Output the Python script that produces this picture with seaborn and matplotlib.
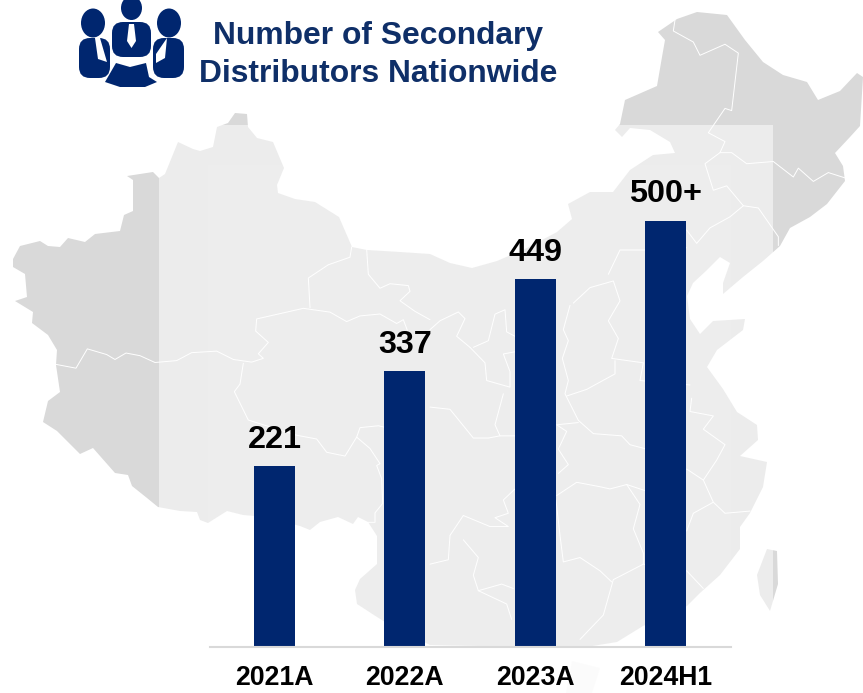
import pandas as pd
import numpy as np
import matplotlib
matplotlib.use('Agg')
import matplotlib.pyplot as plt
from matplotlib.patches import Polygon, Rectangle, Ellipse, FancyBboxPatch
import seaborn as sns

# chart data
periods = ['2021A', '2022A', '2023A', '2024H1']
distributors = [221, 337, 449, 520]
bar_labels = ['221', '337', '449', '500+']

NAVY = '#00266f'
TITLE_NAVY = '#0f2f68'

sns.set_theme(style='white')
plt.rcParams['font.family'] = ['Liberation Sans', 'DejaVu Sans']

# map outline, traced in pixels (backdrop only)
china = [(13,259),(20,246),(40,241),(48,246),(60,247),(68,238),(85,242),(95,234),(120,231),(124,215),
         (133,211),(133,180),(127,176),(153,172),(159,178),(165,174),(178,142),(193,149),(200,151),(213,147),
         (217,127),(228,123),(235,113),(247,114),(248,127),(257,138),(273,142),(284,168),(277,185),(278,193),
         (295,199),(315,202),(339,217),(352,247),(367,250),(400,252),(430,254),(450,263),(472,268),(497,261),
         (527,248),(557,232),(572,219),(568,204),(590,192),(613,192),(630,170),(653,155),(675,153),(670,142),
         (650,130),(630,128),(622,137),(615,130),(620,124),(625,100),(657,86),(662,57),(665,40),(658,32),
         (677,19),(697,12),(727,15),(745,40),(763,62),(783,75),(807,82),(818,100),(840,91),(857,73),
         (863,77),(860,126),(850,137),(835,153),(843,166),(845,181),(827,204),(810,217),(790,228),(780,246),
         (763,261),(743,277),(723,294),(723,283),(730,263),(720,257),(707,270),(693,283),(687,296),(690,319),
         (700,334),(713,321),(745,319),(743,330),(717,350),(707,367),(723,389),(737,412),(757,425),(758,440),
         (740,456),(767,462),(763,487),(750,513),(740,527),(740,549),(720,575),(700,593),(687,606),(643,626),
         (617,642),(580,648),(430,645),(400,630),(385,622),(377,617),(357,604),(355,590),(360,579),(377,564),
         (377,536),(368,522),(358,517),(353,524),(338,517),(320,522),(310,530),(300,526),(267,517),(243,515),
         (227,511),(208,523),(200,520),(197,512),(180,511),(158,507),(147,498),(132,486),(128,475),(115,473),
         (93,448),(80,454),(57,431),(43,422),(48,401),(60,392),(56,365),(57,350),(48,335),(32,323),
         (33,312),(15,301),(27,297),(25,274),(13,267)]
taiwan = [(777,551),(767,549),(757,575),(760,595),(770,611),(778,584)]
hainan = [(572,661),(600,668),(592,693),(566,693)]

# province borders
west_lines = [
    [(168,698),(228,708),(262,657),(320,672),(345,685),(378,668),(420,675),(465,693),(530,688),(575,667),(650,663),
     (700,685),(755,692),(790,682),(775,670),(805,640),(767,610),(770,578),(910,550),(990,560),(1040,585),(1080,570),
     (1140,565),(1190,590),(1210,580),(1225,615)],
    [(1055,388),(1050,415),(985,435),(925,470),(930,548)],
    [(1100,395),(1105,460),(1140,497),(1170,485),(1225,490),(1230,505),(1200,530),(1245,558),(1290,580)],
    [(730,695),(720,750),(703,770),(745,845),(890,885),(950,895),(980,930),(1035,940),(1070,890),(1080,865),(1135,860),(1160,865)],
    [(1070,890),(1110,920),(1140,960),(1130,965),(1145,1000),(1148,1065),(1125,1090),(1125,1115),(1105,1115)],
]
east_lines = [
    [(735,45),(730,70),(790,95),(810,125),(885,100),(925,120),(905,250),(885,245),(835,300),(885,320),(870,345),(825,370),
     (850,430),(890,420),(940,465),(985,470),(1045,535),(1045,555)],
    [(870,345),(905,345),(950,370),(1030,365),(1090,400),(1105,380),(1150,410),(1195,390),(1245,402)],
    [(940,465),(900,490),(840,515),(800,550),(770,520)],
    [(535,620),(570,565),(645,565),(770,560)],
    [(430,685),(480,650),(550,635),(570,680),(535,725),(565,765),(545,810),(640,820),(630,860),(780,870)],
    [(420,690),(400,745),(415,770),(397,810),(415,860),(405,890),(445,950),(490,980),(575,985),(600,1005),(650,1015)],
    [(410,895),(470,880),(555,845),(555,815)],
    [(445,955),(380,960),(410,975),(385,1015),(415,1050),(385,1070)],
    [(380,1120),(440,1090),(510,1100),(540,1105),(590,1095),(630,1140),(610,1195),(640,1250),(640,1275),(550,1310),(520,1390),(450,1445)],
    [(590,1095),(650,1110),(770,1060),(820,1085),(850,1135),(885,1160),(960,1155)],
    [(820,1085),(860,1040),(885,1005),(820,970),(850,940),(780,930),(785,900)],
    [(850,1135),(790,1160),(770,1200)],
    [(640,1275),(770,1290),(820,1330)],
    [(0,920),(60,925),(130,990),(175,990),(210,985),(255,985)],
    [(220,890),(195,960),(210,985)],
    [(120,785),(80,760),(105,720),(85,705),(30,725),(0,745)],
    [(120,785),(165,820),(170,860),(240,875),(240,840),(220,800),(255,795)],
    [(130,785),(175,770),(195,710),(225,700),(230,750),(255,760)],
    [(255,1105),(220,1130),(235,1160),(195,1170),(235,1190),(180,1190),(100,1165),(60,1210),(55,1265),(0,1275)],
    [(100,1220),(145,1260),(130,1300),(145,1335),(215,1320),(250,1330)],
    [(145,1335),(230,1365),(245,1400)],
    [(378,1130),(390,1210),(400,1270),(450,1260),(510,1290),(545,1315)],
]

fig = plt.figure(figsize=(8.63, 6.93), dpi=100)
fig.patch.set_facecolor('white')

# backdrop axes in pixel coordinates
bg = fig.add_axes([0, 0, 1, 1])
bg.set_xlim(0, 863)
bg.set_ylim(693, 0)
bg.axis('off')

for shape in [china, taiwan]:
    bg.add_patch(Polygon(shape, closed=True, facecolor='#d9d9d9', edgecolor='none', zorder=1))
bg.add_patch(Polygon(hainan, closed=True, facecolor='#e6e6e6', edgecolor='none', zorder=1))

for line in west_lines:
    pts = np.array(line, dtype=float)
    bg.plot(pts[:, 0] / 3, 100 + pts[:, 1] / 2.64, color='white', lw=0.7, zorder=2)
for line in east_lines:
    pts = np.array(line, dtype=float)
    bg.plot(430 + pts[:, 0] / 3, pts[:, 1] / 2.26, color='white', lw=0.7, zorder=2)

# washed out panels over the map
bg.add_patch(Rectangle((159, 125), 614, 568, facecolor='white', alpha=0.5, edgecolor='none', zorder=3))
bg.add_patch(Rectangle((208, 165), 523, 528, facecolor='white', alpha=0.1, edgecolor='none', zorder=3))
bg.add_patch(Rectangle((208, 650), 523, 43, facecolor='white', alpha=0.7, edgecolor='none', zorder=3))

# people icon
for cx, cy, rx, ry in [(131.5, 8, 10.5, 12), (93, 23, 12, 14.5), (169, 23, 12, 14.5)]:
    bg.add_patch(Ellipse((cx, cy), rx * 2, ry * 2, facecolor=NAVY, edgecolor='none', zorder=4))
for x0, y0, w, h in [(112, 22, 39, 35), (79, 38, 31, 40), (153, 38, 31, 40)]:
    bg.add_patch(FancyBboxPatch((x0 + 7, y0 + 7), w - 14, h - 14, boxstyle='round,pad=7,rounding_size=11',
                                facecolor=NAVY, edgecolor='none', zorder=4))
bg.add_patch(Polygon([(105, 82), (116, 63), (130, 67), (146, 63), (149, 77), (157, 82), (145, 87), (120, 87)],
                     closed=True, facecolor=NAVY, edgecolor='none', zorder=4))
# ties and gaps
for tie in [[(129, 24), (134, 24), (136, 41), (131.5, 48), (127, 41)],
            [(95, 38), (100, 38), (107, 62), (98, 59)],
            [(167, 38), (156, 54), (156, 63), (165, 58)]]:
    bg.add_patch(Polygon(tie, closed=True, facecolor='white', edgecolor='none', zorder=5))

# title
bg.text(378, 36, 'Number of Secondary', color=TITLE_NAVY, fontsize=22.9, fontweight='bold',
        ha='center', va='center', zorder=6)
bg.text(378, 74, 'Distributors Nationwide', color=TITLE_NAVY, fontsize=22.9, fontweight='bold',
        ha='center', va='center', zorder=6)

# bars
df = pd.DataFrame({'period': periods, 'distributors': distributors})
ax = fig.add_axes([209.5 / 863, 46 / 693, 521 / 863, 497 / 693])
ax.patch.set_alpha(0)
sns.barplot(data=df, x='period', y='distributors', order=periods, color=NAVY, width=0.315,
            saturation=1, edgecolor='none', linewidth=0, ax=ax)
ax.set_xlim(-0.5, 3.5)
ax.set_ylim(0, 606)
ax.set_xlabel('')
ax.set_ylabel('')
ax.set_yticks([])
ax.bar_label(ax.containers[0], labels=bar_labels, fontsize=23.3, fontweight='bold', color='black', padding=8)
ax.tick_params(axis='x', length=0, pad=13)
for t in ax.get_xticklabels():
    t.set_fontsize(19.2)
    t.set_fontweight('bold')
    t.set_color('black')
sns.despine(ax=ax, left=True)
ax.spines['bottom'].set_color('#d9d9d9')
ax.spines['bottom'].set_linewidth(1.5)

fig.savefig('out.png', dpi=100)
